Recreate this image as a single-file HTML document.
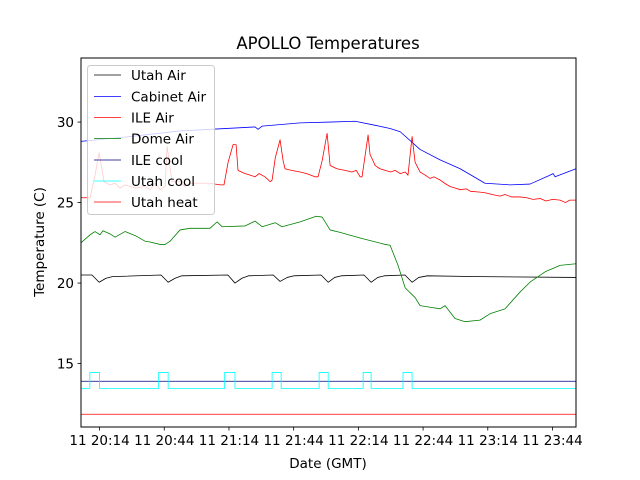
<!DOCTYPE html>
<html><head><meta charset="utf-8"><style>
html,body{margin:0;padding:0;background:#fff}
svg{display:block;font-family:"DejaVu Sans","Liberation Sans",sans-serif}
</style></head><body>
<svg id="chart" width="640" height="480" viewBox="0 0 640 480" xmlns="http://www.w3.org/2000/svg">
<rect x="0" y="0" width="640" height="480" fill="#fff"/>
<text x="328" y="49" font-size="16.5" text-anchor="middle">APOLLO Temperatures</text>
<g id="series"></g>
<g id="axes"></g>
<text x="328" y="468" font-size="13.5" text-anchor="middle">Date (GMT)</text>
<text transform="translate(44,242) rotate(-90)" font-size="13.5" text-anchor="middle">Temperature (C)</text>
<g>
<rect x="87.5" y="65.5" width="127" height="149" rx="3" fill="#fff" fill-opacity="0.8" stroke="#ccc"/>
<g><line x1="94" y1="75" x2="121" y2="75" stroke="#000" stroke-width="0.8"/><text x="131" y="80" font-size="13.5">Utah Air</text></g>
<g><line x1="94" y1="96.5" x2="121" y2="96.5" stroke="#0000ff" stroke-width="0.8"/><text x="131" y="101.5" font-size="13.5">Cabinet Air</text></g>
<g><line x1="94" y1="117.5" x2="121" y2="117.5" stroke="#ff0000" stroke-width="0.8"/><text x="131" y="122.5" font-size="13.5">ILE Air</text></g>
<g><line x1="94" y1="138.5" x2="121" y2="138.5" stroke="#008000" stroke-width="0.8"/><text x="131" y="143.5" font-size="13.5">Dome Air</text></g>
<g><line x1="94" y1="160" x2="121" y2="160" stroke="#000080" stroke-width="0.8"/><text x="131" y="165" font-size="13.5">ILE cool</text></g>
<g><line x1="94" y1="181" x2="121" y2="181" stroke="#00ffff" stroke-width="0.8"/><text x="131" y="186" font-size="13.5">Utah cool</text></g>
<g><line x1="94" y1="202" x2="121" y2="202" stroke="#ff0000" stroke-width="0.8"/><text x="131" y="207" font-size="13.5">Utah heat</text></g>
</g>
</svg>
<script>
// times are minutes after 20:00 GMT
const xTickMinutes = [14, 44, 74, 104, 134, 164, 194, 224];
const xTickLabels = ["11 20:14","11 20:44","11 21:14","11 21:44","11 22:14","11 22:44","11 23:14","11 23:44"];
const yTickValues = [15, 20, 25, 30];
const yTickLabels = ["15", "20", "25", "30"];

const cabinetT = [5.4,28.1,51.3,86.1,87.5,89.4,107,120.9,132.5,141.8,148.7,153.4,162.6,171.9,181.2,192.7,204.4,213.6,222,224.3,225.2,234.9];
const cabinetV = [28.8,29.1,29.45,29.7,29.55,29.75,29.95,30.0,30.05,29.8,29.6,29.4,28.3,27.65,27.1,26.2,26.1,26.15,26.65,26.8,26.6,27.1];

const ileT = [5.4,9.6,11.9,13.8,16.1,18.9,21.2,23.5,25.8,30.5,35.1,37.4,39.7,42.1,44.4,45.3,47.6,51.3,53.6,56,60.6,65.2,69.9,71.7,73.6,75.9,77.3,78.2,81.5,84,86.1,88,90.7,93.1,94,95.5,97.7,99.1,100,103,107,110,113.9,115.3,117.2,119.5,120.9,124,127.8,131,133,134.8,135.7,138.5,139.4,141.8,144,146.4,149,151,153.4,155.7,157,158.9,160.3,162.6,165,167.3,169,171.9,174,176.5,179,181.2,184,186,190.4,193,196,199.7,202,205,209,212,215,218.3,221,224,227.5,230,232,234.9];
const ileV = [25.3,25.3,26.7,28.1,26.3,26.1,26.2,25.9,26.1,25.9,26.0,25.8,26.2,25.8,26.0,28.5,26.3,26.3,26.0,26.2,26.2,26.2,26.1,26.1,27.5,28.6,28.6,27.0,26.8,26.7,26.6,26.8,26.6,26.3,26.4,27.8,28.9,27.6,27.1,27.0,26.9,26.8,26.6,26.6,27.6,29.3,27.3,27.1,27.0,26.9,27.0,26.6,26.6,29.2,28.0,27.3,27.1,27.0,26.9,27.0,26.8,26.9,26.7,29.1,27.5,26.9,26.7,26.5,26.6,26.4,26.2,26.0,25.9,25.8,25.85,25.7,25.65,25.6,25.5,25.4,25.5,25.35,25.35,25.3,25.2,25.25,25.1,25.2,25.15,25.0,25.15,25.15];

const domeT = [5.4,9.6,11.9,14.2,15.6,18.9,21.2,25.8,30.5,35.1,37.4,42.1,44.4,46.7,51.3,56,65.2,68.5,70.8,81.5,86.1,89.4,95.4,98.6,107,114.4,117.2,120.9,125.5,134.8,146.4,148.7,152.4,155.7,160.3,162.6,167.3,171.9,174.2,178.8,183.5,190.4,195.1,202,209,213.6,220.6,227.5,234.9];
const domeV = [22.5,23.0,23.2,23.0,23.25,23.05,22.85,23.2,22.95,22.6,22.55,22.4,22.4,22.6,23.3,23.4,23.4,23.8,23.5,23.55,23.85,23.5,23.75,23.5,23.8,24.15,24.1,23.3,23.15,22.8,22.4,22.35,21.1,19.7,19.1,18.6,18.5,18.4,18.6,17.8,17.6,17.7,18.1,18.4,19.45,20.06,20.7,21.1,21.2];

const utahAirT = [5.4,10.5,13.8,17,20,42.5,45.8,49,52,73.5,76.8,80,83,94.5,97.7,101,104,116.7,120,123,126,136.6,139.9,143,146,155.6,158.9,162,166,190,234.9];
const utahAirV = [20.5,20.5,20.05,20.3,20.4,20.5,20.05,20.3,20.45,20.5,20.0,20.3,20.45,20.5,20.1,20.35,20.45,20.5,20.05,20.35,20.45,20.5,20.05,20.35,20.45,20.5,20.05,20.35,20.45,20.4,20.35];

const ileCoolT = [5.4, 234.9];
const ileCoolV = [13.9, 13.9];

const utahCoolT = [5.4,9.5,9.5,14,14,41.4,41.4,45.8,45.8,72,72,76.8,76.8,94,94,98.2,98.2,115.8,115.8,120,120,136.2,136.2,139.9,139.9,154.7,154.7,158.9,158.9,234.9];
const utahCoolV = [13.45,13.45,14.45,14.45,13.45,13.45,14.45,14.45,13.45,13.45,14.45,14.45,13.45,13.45,14.45,14.45,13.45,13.45,14.45,14.45,13.45,13.45,14.45,14.45,13.45,13.45,14.45,14.45,13.45,13.45];

const utahHeatT = [5.4, 234.9];
const utahHeatV = [11.85, 11.85];

const L = 81, T = 58, R = 576, B = 427;
const tMin = 5.4, tMax = 234.9, vMin = 11.06, vMax = 33.98;
function xs(t) { return L + (t - tMin) / (tMax - tMin) * (R - L); }
function ys(v) { return B - (v - vMin) / (vMax - vMin) * (B - T); }
const NS = "http://www.w3.org/2000/svg";
const seriesG = document.getElementById('series');
const axesG = document.getElementById('axes');

function drawLine(ts, vs, color, name) {
  const p = document.createElementNS(NS, 'path');
  let d = '';
  for (let i = 0; i < ts.length; i++) d += (i ? 'L' : 'M') + xs(ts[i]).toFixed(2) + ',' + ys(vs[i]).toFixed(2);
  p.setAttribute('d', d);
  p.setAttribute('fill', 'none');
  p.setAttribute('stroke', color);
  p.setAttribute('stroke-width', '0.8');
  p.setAttribute('stroke-linejoin', 'round');
  
  
  seriesG.appendChild(p);
}
drawLine(utahAirT, utahAirV, '#000000', 'utah-air-line');
drawLine(cabinetT, cabinetV, '#0000ff', 'cabinet-air-line');
drawLine(ileT, ileV, '#ff0000', 'ile-air-line');
drawLine(domeT, domeV, '#008000', 'dome-air-line');
drawLine(ileCoolT, ileCoolV, '#000080', 'ile-cool-line');
drawLine(utahCoolT, utahCoolV, '#00ffff', 'utah-cool-line');
drawLine(utahHeatT, utahHeatV, '#ff0000', 'utah-heat-line');

const frame = document.createElementNS(NS, 'rect');
frame.setAttribute('x', L); frame.setAttribute('y', T);
frame.setAttribute('width', R - L); frame.setAttribute('height', B - T);
frame.setAttribute('fill', 'none'); frame.setAttribute('stroke', '#000'); frame.setAttribute('stroke-width', '1');


axesG.appendChild(frame);

for (let i = 0; i < xTickMinutes.length; i++) {
  const x = xs(xTickMinutes[i]);
  const tk = document.createElementNS(NS, 'line');
  tk.setAttribute('x1', x); tk.setAttribute('x2', x); tk.setAttribute('y1', B); tk.setAttribute('y2', B + 3.5);
  tk.setAttribute('stroke', '#000'); tk.setAttribute('stroke-width', '0.8');
  
  
  axesG.appendChild(tk);
  const lb = document.createElementNS(NS, 'text');
  lb.setAttribute('x', x); lb.setAttribute('y', B + 18);
  lb.setAttribute('font-size', '13.5'); lb.setAttribute('text-anchor', 'middle');
  lb.textContent = xTickLabels[i];
  
  
  axesG.appendChild(lb);
}
for (let i = 0; i < yTickValues.length; i++) {
  const y = ys(yTickValues[i]);
  const tk = document.createElementNS(NS, 'line');
  tk.setAttribute('x1', L - 3.5); tk.setAttribute('x2', L); tk.setAttribute('y1', y); tk.setAttribute('y2', y);
  tk.setAttribute('stroke', '#000'); tk.setAttribute('stroke-width', '0.8');
  
  
  axesG.appendChild(tk);
  const lb = document.createElementNS(NS, 'text');
  lb.setAttribute('x', L - 7); lb.setAttribute('y', y + 5);
  lb.setAttribute('font-size', '13.5'); lb.setAttribute('text-anchor', 'end');
  lb.textContent = yTickLabels[i];
  
  
  axesG.appendChild(lb);
}
</script>
</body></html>
